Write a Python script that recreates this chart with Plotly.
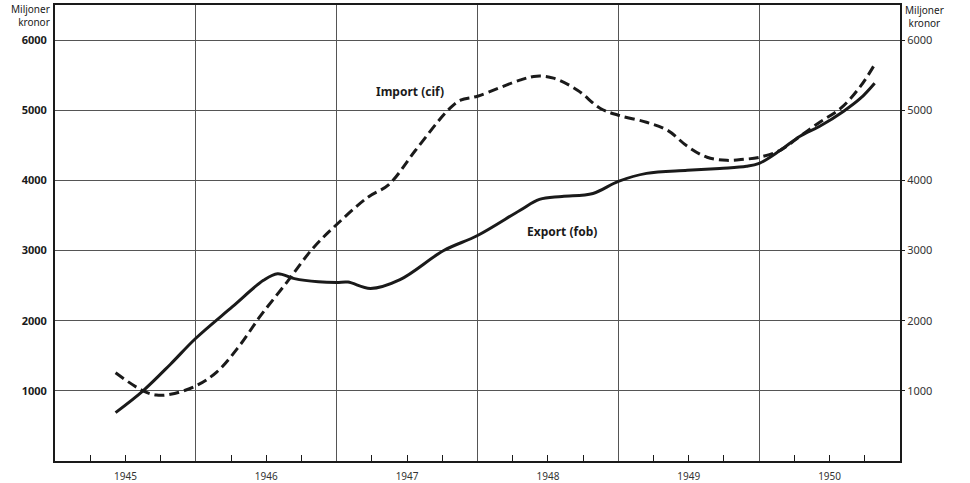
import plotly.graph_objects as go

# Data (years as fractional positions, values in miljoner kronor)
export_x = [1945.43, 1945.625, 1945.82, 1946.0, 1946.26, 1946.48, 1946.58, 1946.7, 1946.87,
            1947.0, 1947.08, 1947.24, 1947.45, 1947.76, 1948.0, 1948.3, 1948.44, 1948.6,
            1948.82, 1949.0, 1949.2, 1949.49, 1949.72, 1949.91, 1950.0, 1950.15, 1950.29,
            1950.43, 1950.6, 1950.72, 1950.82]
export_y = [690, 1000, 1380, 1750, 2200, 2575, 2670, 2600, 2555,
            2545, 2550, 2460, 2586, 3000, 3214, 3571, 3729, 3771,
            3814, 3986, 4100, 4143, 4171, 4200, 4243, 4429, 4629,
            4771, 4986, 5171, 5386]

import_x = [1945.43, 1945.625, 1945.72, 1945.82, 1946.0, 1946.15, 1946.31, 1946.46, 1946.65,
            1946.83, 1947.0, 1947.22, 1947.37, 1947.56, 1947.79, 1947.88, 1948.0, 1948.3,
            1948.42, 1948.54, 1948.71, 1948.87, 1949.0, 1949.2, 1949.35, 1949.49, 1949.63,
            1949.77, 1949.89, 1950.0, 1950.15, 1950.29, 1950.43, 1950.58, 1950.72, 1950.83]
import_y = [1257, 1000, 940, 950, 1071, 1271, 1643, 2071, 2557,
            3029, 3371, 3757, 3940, 4429, 5000, 5143, 5200, 5429,
            5486, 5457, 5286, 5029, 4929, 4829, 4714, 4486, 4330,
            4286, 4300, 4329, 4429, 4629, 4829, 5029, 5343, 5686]

years = [1945, 1946, 1947, 1948, 1949, 1950]
y_ticks = [1000, 2000, 3000, 4000, 5000, 6000]
y_ticktext = ["1000", "2000", "3000", "4000", "5000", "6000"]

FONT = "Noto Sans"
INK = "#1a1a1a"
GRID = "#555555"

fig = go.Figure()
fig.add_trace(go.Scatter(x=import_x, y=import_y, mode="lines", line_shape="spline",
                         line=dict(color=INK, width=3, dash="10px,5px"),
                         name="Import (cif)", showlegend=False, hoverinfo="skip"))
fig.add_trace(go.Scatter(x=export_x, y=export_y, mode="lines", line_shape="spline",
                         line=dict(color=INK, width=3),
                         name="Export (fob)", showlegend=False, hoverinfo="skip"))
# invisible trace to anchor right axis
fig.add_trace(go.Scatter(x=export_x, y=export_y, mode="lines", yaxis="y2",
                         line=dict(width=0, color="rgba(0,0,0,0)"),
                         showlegend=False, hoverinfo="skip"))

major_vals, major_text = [], []
for yr in years:
    major_vals += [yr + 0.25, yr + 0.5, yr + 0.75]
    major_text += ["", str(yr), ""]

fig.update_layout(
    width=970, height=483,
    margin=dict(l=55, r=70, t=5, b=22),
    paper_bgcolor="white", plot_bgcolor="white",
    font=dict(family=FONT, color=INK, size=11),
    xaxis=dict(range=[1945, 1951], tickmode="array", tickvals=major_vals, ticktext=major_text,
               ticks="inside", ticklen=6, tickwidth=1.2, tickcolor=INK, automargin=False,
               showgrid=False, zeroline=False, showline=True, linecolor=INK, linewidth=2,
               mirror=True, tickfont=dict(size=10, color="#333"), ticklabelstandoff=5,
               minor=dict(tickmode="array", tickvals=[1946, 1947, 1948, 1949, 1950],
                          showgrid=True, gridcolor=GRID, gridwidth=1, ticks="")),
    yaxis=dict(range=[0, 6500], tickmode="array", tickvals=y_ticks, ticktext=y_ticktext,
               showgrid=True, gridcolor=GRID, gridwidth=1, zeroline=False, automargin=False,
               showline=True, linecolor=INK, linewidth=2, ticks="",
               tickfont=dict(size=11, color=INK, family=FONT, weight="bold"),
               ticklabelstandoff=4),
    yaxis2=dict(range=[0, 6500], overlaying="y", side="right", tickmode="array",
                tickvals=y_ticks, ticktext=y_ticktext, showgrid=False, zeroline=False,
                automargin=False,
                showline=True, linecolor=INK, linewidth=2, ticks="outside", ticklen=3,
                tickcolor=INK, tickfont=dict(size=11, color="#333", family=FONT)),
)

fig.add_annotation(x=1947.52, y=5270, text="<b>Import (cif)</b>", showarrow=False,
                   font=dict(size=12, color=INK, family=FONT))
fig.add_annotation(x=1948.6, y=3270, text="<b>Export (fob)</b>", showarrow=False,
                   font=dict(size=12, color=INK, family=FONT))
fig.add_annotation(xref="paper", yref="paper", x=-0.004, y=1.012, xanchor="right", yanchor="top",
                   text="Miljoner<br>kronor", showarrow=False, align="right",
                   font=dict(size=10, color=INK, family=FONT))
fig.add_annotation(xref="paper", yref="paper", x=1.004, y=1.008, xanchor="left", yanchor="top",
                   text="Miljoner<br>kronor", showarrow=False, align="center",
                   font=dict(size=10, color=INK, family=FONT))

fig.write_html("out.html", config={"displayModeBar": False},
               post_script="document.body.style.margin='0px';")
